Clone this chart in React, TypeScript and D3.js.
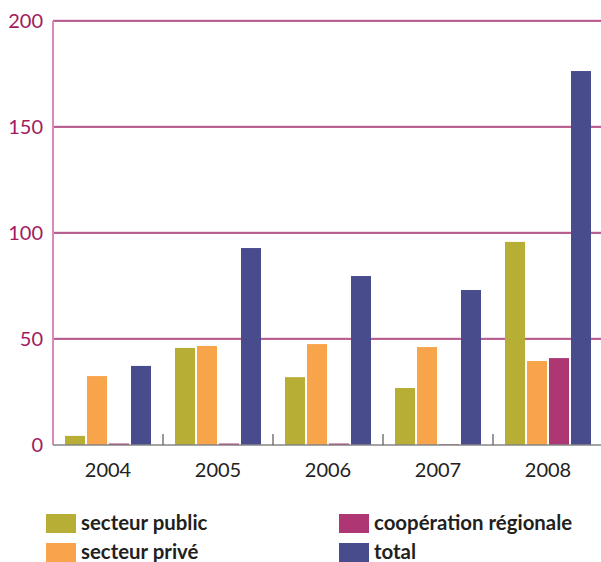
import React from 'react';
import * as d3 from 'd3';

const years = ['2004', '2005', '2006', '2007', '2008'];
const seriesNames = ['secteur public', 'secteur privé', 'coopération régionale', 'total'];
const publicValues = [4.3, 45.8, 32, 26.9, 95.8];
const priveValues = [32.5, 46.7, 47.6, 46.2, 39.6];
const coopValues = [0.7, 0.7, 0.7, 0.3, 41];
const totalValues = [37.3, 92.9, 79.7, 73.1, 176.4];
const yTicks = [0, 50, 100, 150, 200];
const colors = ['#b7ae35', '#f8a44a', '#ad3673', '#484b8c'];

const W = 601;
const H = 562;
const left = 53;
const right = 603;
const top = 21;
const bottom = 445;

const App = () => {
    const series = [publicValues, priveValues, coopValues, totalValues];

    const x = d3.scaleBand().domain(years).range([left, right]);
    const inner = d3.scaleBand()
        .domain(seriesNames)
        .range([12, x.bandwidth() - 12])
        .paddingInner(2 / 22);
    const y = d3.scaleLinear().domain([0, 200]).range([bottom, top]);

    const font = 'Lato, "Open Sans", sans-serif';

    return (
        <svg width={W} height={H} style={{ position: 'absolute', left: 0, top: 0, background: '#fff' }}>
            {/* grid lines */}
            {yTicks.filter(t => t > 0).map(t => (
                <g key={t}>
                    <line x1={left} x2={W} y1={y(t) - 1} y2={y(t) - 1} stroke="#e7bcd6" strokeWidth={1} />
                    <line x1={left} x2={W} y1={y(t)} y2={y(t)} stroke="#a3326f" strokeWidth={1.3} />
                </g>
            ))}
            {/* y labels */}
            {yTicks.map(t => (
                <text key={t} x={43} y={y(t) + 7} textAnchor="end" fontFamily={font}
                    fontSize={20} fill="#a31a5f">{t}</text>
            ))}
            {/* bars */}
            {years.map((yr, i) => (
                <g key={yr} transform={`translate(${x(yr)},0)`}>
                    {seriesNames.map((s, j) => (
                        <rect key={s} x={inner(s)} width={inner.bandwidth()}
                            y={y(series[j][i])} height={bottom - y(series[j][i])}
                            fill={colors[j]} />
                    ))}
                </g>
            ))}
            {/* left axis */}
            <line x1={left} x2={left} y1={top} y2={bottom} stroke="#d68cb6" strokeWidth={2} />
            {/* baseline */}
            <line x1={left} x2={W} y1={bottom} y2={bottom} stroke="#858585" strokeWidth={1.5} />
            {/* ticks between groups */}
            {years.slice(1).map(yr => (
                <line key={yr} x1={x(yr)} x2={x(yr)} y1={bottom - 11} y2={bottom}
                    stroke="#555" strokeWidth={1.2} />
            ))}
            {/* x labels */}
            {years.map(yr => (
                <text key={yr} x={x(yr)! + x.bandwidth() / 2} y={477} textAnchor="middle"
                    fontFamily={font} fontSize={20} fill="#222">{yr}</text>
            ))}
            {/* legend */}
            {seriesNames.map((s, j) => {
                const lx = j < 2 ? 46 : 339;
                const ly = j % 2 === 0 ? 514 : 543;
                return (
                    <g key={s}>
                        <rect x={lx} y={ly} width={30} height={19} fill={colors[j]} />
                        <text x={lx + 35} y={ly + 16} fontFamily={font} fontSize={20.4}
                            fontWeight="bold" fill="#231f20">{s}</text>
                    </g>
                );
            })}
        </svg>
    );
};

export default App;
